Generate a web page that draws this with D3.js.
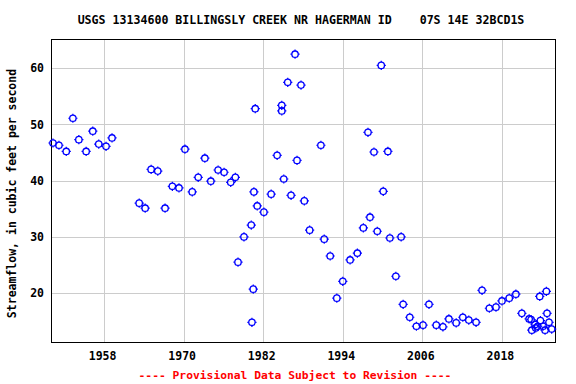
<!DOCTYPE html>
<html>
<head>
<meta charset="utf-8">
<script src="https://cdn.jsdelivr.net/npm/d3@7"></script>
<style>
  body { margin: 0; background: #fff; }
  text { font-family: "DejaVu Sans Mono", monospace; font-weight: bold; }
</style>
</head>
<body>
<div id="chart"></div>
<script>
// measurement dates (decimal years) and streamflow values, cfs
var years = [
  1950.3, 1951.2, 1952.3, 1953.3, 1954.2, 1955.3, 1956.3, 1957.2, 1958.3, 1959.2,
  1963.3, 1964.2, 1965.1, 1966.1, 1967.2, 1968.3, 1969.3, 1970.2, 1971.3, 1972.2,
  1973.2, 1974.1, 1975.2, 1976.1, 1977.1, 1977.8, 1978.2, 1979.1, 1980.2, 1980.3,
  1980.5, 1980.6, 1980.8, 1981.1, 1982.1, 1983.2, 1984.1, 1984.8, 1984.8, 1985.1,
  1985.7, 1986.2, 1986.8, 1987.1, 1987.7, 1988.2, 1989.0, 1990.7, 1991.2, 1992.1,
  1993.1, 1994.0, 1995.1, 1996.2, 1997.1, 1997.8, 1998.1, 1998.7, 1999.2, 1999.8,
  2000.1, 2000.8, 2001.1, 2002.0, 2002.8, 2003.1, 2004.1, 2005.1, 2006.1, 2007.0,
  2008.1, 2009.1, 2010.0, 2011.1, 2012.1, 2013.0, 2014.1, 2015.0, 2016.1, 2017.1,
  2018.0, 2019.1, 2020.1, 2021.0, 2022.1, 2022.4, 2022.5, 2023.0, 2023.1, 2023.4,
  2023.7, 2023.8, 2024.2, 2024.5, 2024.7, 2024.8, 2025.1, 2025.5
];
var flows = [
  46.7, 46.3, 45.2, 51.1, 47.3, 45.2, 48.8, 46.5, 46.1, 47.6,
  36.0, 35.1, 42.0, 41.7, 35.1, 39.0, 38.7, 45.6, 38.0, 40.6,
  44.0, 39.9, 41.9, 41.5, 39.7, 40.6, 25.5, 30.0, 32.1, 14.8,
  20.7, 38.0, 52.8, 35.5, 34.4, 37.6, 44.5, 53.4, 52.4, 40.3,
  57.5, 37.4, 62.5, 43.6, 57.0, 36.4, 31.2, 46.3, 29.6, 26.6,
  19.1, 22.1, 25.9, 27.1, 31.6, 48.6, 33.5, 45.1, 31.0, 60.5,
  38.1, 45.2, 29.8, 23.0, 30.0, 18.0, 15.7, 14.1, 14.3, 18.0,
  14.3, 14.0, 15.4, 14.7, 15.7, 15.2, 14.8, 20.5, 17.3, 17.5,
  18.6, 19.1, 19.8, 16.4, 15.4, 15.3, 13.4, 14.4, 13.8, 14.1,
  19.4, 15.1, 14.1, 13.4, 20.3, 16.4, 14.8, 13.6
];
var xTicks = [1958, 1970, 1982, 1994, 2006, 2018];
var yTicks = [20, 30, 40, 50, 60];

var titleText = "USGS 13134600 BILLINGSLY CREEK NR HAGERMAN ID    07S 14E 32BCD1S";
var yLabel = "Streamflow, in cubic feet per second";
var footer = "---- Provisional Data Subject to Revision ----";

var width = 576, height = 384;
var plotL = 51, plotR = 555, plotT = 39, plotB = 342;

var svg = d3.select('#chart').append('svg')
  .attr('width', width)
  .attr('height', height);

var x = d3.scaleLinear().domain([1950, 2026]).range([plotL, plotR]);
var y = d3.scaleLinear().domain([11.3, 65.2]).range([plotB, plotT]);

// grid lines
svg.append('g').selectAll('line.vx')
  .data(xTicks).enter().append('line')
  .attr('x1', function (d) { return Math.round(x(d)) + 0.5; })
  .attr('x2', function (d) { return Math.round(x(d)) + 0.5; })
  .attr('y1', plotT).attr('y2', plotB)
  .attr('stroke', '#cccccc').attr('stroke-width', 1);

svg.append('g').selectAll('line.hy')
  .data(yTicks).enter().append('line')
  .attr('y1', function (d) { return Math.round(y(d)) + 0.5; })
  .attr('y2', function (d) { return Math.round(y(d)) + 0.5; })
  .attr('x1', plotL).attr('x2', plotR)
  .attr('stroke', '#cccccc').attr('stroke-width', 1);

// axes, labels only
var xAxis = svg.append('g')
  .attr('transform', 'translate(0,' + (plotB + 10) + ')')
  .call(d3.axisBottom(x).tickValues(xTicks).tickFormat(d3.format('d')).tickSize(0).tickPadding(0));
xAxis.select('.domain').remove();
xAxis.selectAll('text').attr('font-size', 11.5).attr('fill', '#000')
  .style('font-family', '"DejaVu Sans Mono", monospace').style('font-weight', 'bold')
  .attr('dx', -2);

var yAxis = svg.append('g')
  .attr('transform', 'translate(' + (plotL - 7) + ',0)')
  .call(d3.axisLeft(y).tickValues(yTicks).tickSize(0).tickPadding(0));
yAxis.select('.domain').remove();
yAxis.selectAll('text').attr('font-size', 11.5).attr('fill', '#000')
  .style('font-family', '"DejaVu Sans Mono", monospace').style('font-weight', 'bold');

// frame
svg.append('rect')
  .attr('x', plotL + 0.5).attr('y', plotT + 0.5)
  .attr('width', plotR - plotL).attr('height', plotB - plotT)
  .attr('fill', 'none').attr('stroke', '#000').attr('stroke-width', 1);

// points: open circles with small cross stubs
var pts = years.map(function (d, i) { return { year: d, flow: flows[i] }; });
var g = svg.append('g').selectAll('g.pt')
  .data(pts).enter().append('g')
  .attr('transform', function (d) { return 'translate(' + x(d.year) + ',' + y(d.flow) + ')'; });
g.append('circle').attr('r', 3.2)
  .attr('fill', 'none').attr('stroke', '#0000ff').attr('stroke-width', 1.3);
g.append('path')
  .attr('d', 'M0,-4.6V-3.2M0,3.2V4.6M-4.6,0H-3.2M3.2,0H4.6')
  .attr('stroke', '#0000ff').attr('stroke-width', 1.2);

// texts
svg.append('text')
  .attr('x', 301).attr('y', 24)
  .attr('text-anchor', 'middle')
  .attr('font-size', 11.6)
  .style('white-space', 'pre')
  .attr('xml:space', 'preserve')
  .text(titleText);

svg.append('text')
  .attr('transform', 'translate(16,' + ((plotT + plotB) / 2 + 3) + ') rotate(-90)')
  .attr('text-anchor', 'middle')
  .attr('font-size', 11.5)
  .text(yLabel);

svg.append('text')
  .attr('x', 295).attr('y', 379)
  .attr('text-anchor', 'middle')
  .attr('font-size', 11.3)
  .attr('fill', '#ff0000')
  .text(footer);
</script>
</body>
</html>
